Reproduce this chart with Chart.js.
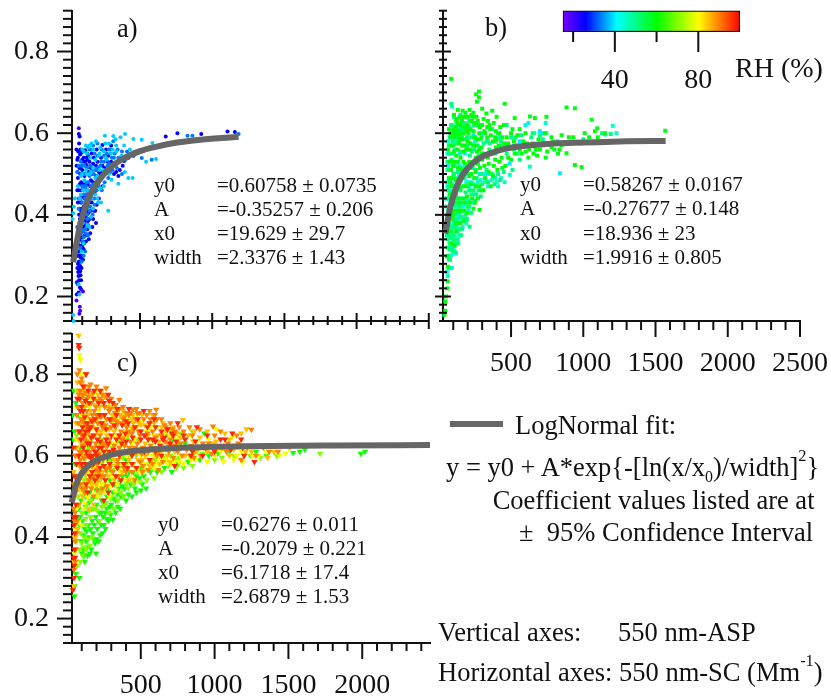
<!DOCTYPE html>
<html><head><meta charset="utf-8">
<script src="https://cdn.jsdelivr.net/npm/chart.js@4"></script>
<style>
html,body{margin:0;padding:0;background:#fff;width:831px;height:700px;overflow:hidden}
canvas{position:absolute}
.t{position:absolute;font-family:"Liberation Serif",serif;color:#111;white-space:pre;transform:translateY(-50%);line-height:1}
.p{font-size:21px}.b{font-size:26.5px}.h{font-size:28px}
sub{font-size:60%;line-height:0}sup{font-size:62%;line-height:0;position:relative;top:-.3em}
</style></head><body>
<div id="stage"></div>
<script>
// ---- axis ticks ----
const yTicks=[.14,.16,.18,.2,.22,.24,.26,.28,.3,.32,.34,.36,.38,.4,.42,.44,.46,.48,.5,.52,.54,.56,.58,.6,.62,.64,.66,.68,.7,.72,.74,.76,.78,.8,.82,.84,.86,.88,.9];
const yMajor=[.2,.4,.6,.8];
const xTicksAB=[100,200,300,400,500,600,700,800,900,1000,1100,1200,1300,1400,1500,1600,1700,1800,1900,2000,2100,2200,2300,2400,2500];
const xTicksC=[100,200,300,400,500,600,700,800,900,1000,1100,1200,1300,1400,1500,1600,1700,1800,1900,2000,2100,2200,2300,2400];
const xMajor=[500,1000,1500,2000,2500];
const rhTicks=[20,40,60,80];
const rhMajor=[40,80];
// ---- colour bar ----
const rhStops=[15,26,41,60,80,100];
const rhColours=[[120,0,255],[0,0,255],[0,255,255],[0,255,0],[255,255,0],[255,0,0]];
// ---- fit curves ----
const aFitX=[37,60,95,150,222,292,384,500,616,755,917,1183];
const aFitY=[.284,.33,.39,.445,.487,.515,.538,.556,.567,.577,.584,.591];
const bFitX=[45,60,80,110,150,200,270,350,450,600,800,1000,1300,1570];
const bFitY=[.354,.385,.419,.456,.489,.514,.536,.55,.561,.569,.575,.577,.58,.581];
const cFitX=[32,50,70,100,150,200,300,400,600,800,1200,1800,2459];
const cFitY=[.485,.514,.536,.557,.577,.589,.602,.609,.616,.62,.623,.625,.626];
// ---- panel a: RH classes, flat x,y lists ----
const aViolet=[83,.175,85,.165,80,.158,60,.19,76,.612,130,.522,105,.212,92,.218,200,.492,62,.235];
const aBlue=[76,.598,82,.592,60,.56,72,.555,85,.548,70,.54,95,.552,120,.558,110,.54,140,.545,165,.55,200,.56,240,.571,60,.52,80,.515,100,.51,125,.52,145,.505,70,.49,92,.48,115,.495,135,.475,160,.485,185,.47,210,.478,75,.46,98,.445,120,.46,150,.45,175,.455,90,.43,110,.42,130,.435,165,.43,190,.41,200,.425,215,.44,105,.4,125,.395,145,.405,175,.39,195,.38,170,.37,88,.375,100,.36,115,.35,135,.365,155,.355,125,.335,145,.34,80,.34,95,.325,110,.315,75,.3,90,.295,105,.29,70,.28,85,.275,95,.27,72,.26,88,.252,78,.24,92,.24,70,.23,84,.222,75,.21,62,.205,240,.52,270,.51,300,.53,330,.525,360,.51,390,.532,420,.54,455,.545,280,.545,250,.5,320,.5,350,.495,380,.52,240,.47,225,.5,678,.592,759,.6,924,.598,1106,.604,1157,.603,265,.56,300,.57,68,.33,80,.31,100,.3,82,.265,76,.285,98,.345,118,.375,140,.385,78,.4,92,.41,112,.445,132,.46,85,.5,105,.53,130,.54,150,.53,175,.525,205,.53,230,.54];
const aBlue2=[66,.27,74,.25,82,.285,70,.31,88,.31,78,.325,100,.335,85,.355,108,.37,92,.385,74,.35,120,.385,128,.41,100,.415,82,.415,115,.44,95,.46,135,.45,155,.47,175,.48,195,.495,110,.475,82,.475,68,.505,90,.515,120,.53,135,.535,160,.515,180,.54,195,.52,215,.505,235,.505,255,.515,275,.53,290,.515,310,.52,335,.505,88,.56,100,.535,78,.575,66,.535];
const aBlue3=[70,.3,78,.272,86,.262,95,.3,102,.32,112,.33,128,.35,138,.375,150,.39,158,.41,180,.41,72,.37,84,.39,95,.405,108,.385,122,.41,138,.445,150,.43,172,.44,185,.455,95,.43,108,.46,70,.43,78,.44,66,.46];
const aAzure=[86,.44,100,.47,115,.47,125,.45,140,.42,155,.44,170,.46,185,.44,200,.46,215,.47,235,.46,255,.48,280,.49,310,.51,340,.515,375,.5,400,.535,430,.545,95,.52,110,.5,135,.515,155,.52,180,.5,200,.51,225,.52,250,.53,275,.52,295,.505,320,.54,345,.56,375,.555,410,.555,150,.56,175,.57,205,.575,235,.56,75,.52,90,.53,65,.505,100,.39,115,.405,135,.39,150,.41,120,.365,140,.35,105,.335,90,.355,80,.38,65,.37,120,.31,110,.3,95,.285,512,.539,581,.535,863,.594,829,.594,1183,.598,315,.58,285,.56,120,.5,145,.48,170,.5,135,.4,70,.35,85,.32,75,.415,160,.47];
const aAzure2=[110,.45,125,.47,145,.455,165,.455,180,.475,195,.46,205,.485,220,.49,240,.495,265,.505,285,.525,305,.54,325,.55,350,.54,130,.48,150,.495,170,.51,190,.51,210,.515,230,.53,250,.545,270,.55,295,.56,115,.52,135,.55,160,.56,185,.55,205,.545,100,.43,118,.41,135,.42,155,.42,172,.4,185,.425,105,.36,125,.355,110,.345,90,.39,120,.44,95,.5];
const aCyan=[42,.42,37,.404,33,.39,49,.44,83,.44,257,.594,315,.593,396,.598,454,.586,512,.584,586,.576,611,.537,542,.53,449,.49,419,.49,350,.476,303,.486,280,.41,125,.57,150,.57,175,.56,220,.55,250,.555,285,.575,330,.585,365,.59,390,.57,430,.56,470,.55,520,.555,130,.55,155,.54,190,.535,215,.545,260,.54,295,.55,335,.555,360,.53,395,.505,100,.5,125,.51,150,.5,175,.515,205,.495,225,.465,250,.47,285,.5,115,.485,140,.46,165,.44,190,.45,205,.44,120,.43,145,.44,105,.38,135,.375,150,.37,95,.31,110,.33,37,.155,40,.14,75,.23,80,.205,100,.56,90,.495,70,.47,210,.43,230,.43,175,.415,160,.395];
const aCyan2=[130,.5,160,.505,190,.49,220,.51,245,.51,270,.535,310,.56,345,.53,370,.545,120,.46,140,.435,105,.46,90,.45,110,.555,140,.565,165,.575,195,.58,225,.565,260,.575,300,.55,335,.57];
// ---- panel b ----
const bGreen=[86,.733,278,.702,278,.688,264,.677,258,.695,132,.657,213,.657,190,.64,240,.65,300,.66,329,.648,370,.655,456,.672,400,.64,525,.637,630,.641,665,.637,884,.663,942,.661,1058,.633,1097,.612,1567,.606,745,.64,600,.6,560,.61,500,.6,450,.62,420,.6,380,.625,340,.63,300,.62,260,.64,230,.63,200,.62,170,.64,150,.62,120,.63,100,.61,80,.59,110,.59,140,.595,170,.6,205,.6,240,.605,280,.6,320,.6,360,.595,400,.585,440,.59,480,.575,520,.58,560,.56,600,.555,650,.575,700,.56,750,.555,800,.56,850,.57,884,.551,942,.522,988,.517,900,.59,850,.595,780,.59,1010,.6,1150,.6,1100,.59,100,.57,130,.56,160,.57,190,.56,220,.575,250,.57,280,.56,75,.53,95,.52,125,.53,150,.54,180,.525,210,.53,240,.53,270,.525,300,.535,340,.54,380,.52,420,.53,460,.52,500,.535,70,.49,90,.47,115,.485,140,.48,175,.47,210,.495,245,.49,280,.47,320,.49,360,.47,85,.44,110,.43,135,.44,165,.44,195,.445,230,.44,270,.44,310,.46,100,.4,125,.41,160,.41,195,.405,240,.415,282,.412,62,.237,62,.273,39,.155,45,.188,56,.298,72,.36,92,.39,120,.36,150,.38,110,.325,90,.33,60,.22,50,.2,45,.165];
const bGreen2=[105,.645,125,.635,145,.64,165,.655,185,.65,205,.64,225,.645,250,.625,270,.63,285,.615,310,.635,335,.615,355,.61,395,.605,70,.61,90,.6,115,.615,135,.605,155,.6,180,.615,195,.605,220,.61,245,.59,265,.585,295,.59,335,.59,375,.58,415,.57,455,.575,495,.565,540,.57,610,.575,670,.56,725,.575,780,.565,825,.55,65,.56,85,.57,105,.555,120,.545,140,.575,165,.585,175,.555,200,.58,235,.57,265,.555,295,.565,325,.545,355,.555,395,.565,85,.51,105,.53,130,.515,155,.51,170,.53,195,.515,225,.5,255,.505,285,.515,315,.52,345,.505,375,.495,405,.51,440,.515,80,.48,100,.49,125,.47,150,.465,165,.49,190,.47,220,.475,255,.47,295,.46,75,.45,95,.44,120,.45,145,.43,180,.43,215,.43,250,.43,105,.41,140,.41,175,.41,85,.4,115,.38,135,.38,170,.385];
const bGreen3=[510,.61,545,.595,585,.58,625,.56,655,.55,690,.585,735,.6,790,.58,835,.56,880,.575,930,.59,975,.575,1040,.59,1080,.605,130,.625,160,.63,190,.61,235,.64,275,.62,315,.605,350,.62,390,.59,425,.615,470,.59,110,.6,145,.585,180,.57,215,.56,255,.54,300,.55,345,.525,390,.535,435,.54,480,.54,525,.55,575,.55,620,.54,680,.545,740,.54];
const bSpring=[86,.672,120,.61,150,.645,180,.625,210,.615,250,.62,290,.585,330,.58,370,.61,410,.6,460,.57,520,.56,570,.595,640,.59,700,.595,760,.575,820,.58,70,.57,95,.58,125,.575,155,.555,185,.585,215,.545,245,.56,275,.545,310,.55,350,.56,390,.55,430,.56,470,.55,510,.51,560,.535,60,.51,80,.51,105,.5,130,.505,160,.495,190,.505,220,.515,255,.51,290,.5,330,.51,370,.5,410,.5,450,.505,65,.46,80,.45,100,.46,125,.46,150,.46,180,.44,210,.46,240,.46,275,.46,55,.42,75,.42,95,.41,120,.39,145,.42,175,.39,210,.42,250,.435,60,.38,75,.38,90,.36,105,.35,130,.34,155,.35,213,.371,75,.33,95,.31,120,.33,65,.3,75,.315,85,.345,55,.35,85,.62,105,.64,135,.62,165,.61,195,.59,225,.59,255,.59,470,.62,530,.59,430,.58,1000,.585,1190,.598,1130,.6];
const bSpring2=[60,.53,72,.55,88,.535,110,.52,135,.53,150,.515,175,.5,200,.5,235,.515,262,.49,300,.475,340,.48,385,.475,425,.485,70,.47,90,.455,110,.44,135,.425,160,.43,185,.455,200,.42,225,.45,260,.45,290,.445,60,.44,80,.43,100,.425,120,.405,150,.395,185,.4,225,.405,68,.4,85,.37,110,.37,130,.36,160,.365,195,.39,65,.34,80,.35,100,.34,90,.315,110,.31,135,.33,150,.365,70,.27,78,.29,62,.32,100,.59,135,.58,160,.59,195,.57,230,.555,270,.57,310,.575,350,.575,395,.58,440,.57,500,.59,545,.55,590,.575,650,.6,720,.585,120,.6,145,.61,175,.62,210,.63,240,.62];
const bAqua=[92,.665,110,.56,130,.59,70,.55,90,.55,145,.52,170,.515,200,.48,225,.48,255,.47,290,.485,340,.47,400,.48,455,.48,491,.498,630,.518,660,.6,620,.625,745,.6,740,.625,1204,.618,1230,.6,55,.48,70,.44,85,.42,100,.44,115,.42,130,.42,150,.44,170,.42,190,.43,60,.4,80,.4,105,.38,125,.37,140,.39,165,.37,190,.38,55,.37,70,.35,85,.32,100,.32,120,.306,85,.3,70,.29,56,.26,62,.25,130,.44,160,.47,190,.48,220,.46,250,.45,300,.5,345,.5,390,.49,430,.49,110,.47,140,.5,90,.49,50,.44,60,.55,75,.59];
const bAqua2=[60,.47,75,.48,95,.475,120,.43,145,.405,170,.395,205,.41,235,.43,75,.41,95,.395,110,.39,130,.4,150,.35,75,.36,95,.345,115,.34,135,.35,100,.5,125,.49,155,.485,180,.49,210,.47,240,.475,270,.48,320,.48,365,.485,410,.47,65,.58,80,.6,95,.62,115,.58,145,.55,250,.58,300,.6];
const bCyan=[838,.502,700,.605,720,.6,600,.62,560,.58,520,.57,420,.59,340,.58,240,.595,180,.55,120,.41,140,.4,100,.35,85,.33,75,.37,65,.41,55,.4,115,.306,90,.27,175,.43,205,.435,282,.5,320,.5,490,.525,1150,.597,72,.46,65,.52];
// ---- panel c ----
const cGreen=[50,.255,52,.28,84,.3,60,.31,120,.34,140,.355,197,.36,165,.37,190,.385,215,.39,240,.41,260,.42,310,.443,280,.44,330,.46,360,.47,230,.43,205,.42,175,.41,150,.40,130,.39,110,.37,95,.39,120,.42,145,.43,170,.44,195,.45,220,.46,245,.45,270,.47,300,.48,330,.49,365,.5,400,.49,440,.5,470,.51,500,.515,536,.52,430,.53,390,.52,350,.52,310,.51,270,.5,235,.49,200,.48,165,.47,130,.46,105,.44,85,.43,80,.47,95,.49,125,.5,155,.51,185,.52,215,.52,255,.53,290,.54,335,.55,375,.55,420,.56,470,.55,520,.55,565,.56,610,.56,660,.57,710,.56,755,.58,820,.585,900,.59,960,.6,1020,.605,1100,.61,1200,.6,1280,.61,1350,.6,1532,.607,1577,.61,1612,.615,2019,.61,1990,.605,50,.66,40,.7,45,.76,60,.73,75,.7,42,.64,38,.62,55,.58,90,.62,140,.6,205,.57,300,.59,400,.59,500,.605,620,.61,720,.64,800,.63,930,.655,1220,.62];
const cGreen2=[100,.36,115,.355,135,.375,155,.36,180,.395,200,.395,225,.405,250,.43,270,.445,295,.455,320,.47,345,.475,380,.5,415,.505,460,.52,510,.53,110,.405,135,.415,160,.42,185,.43,210,.44,235,.46,260,.46,290,.475,315,.495,340,.505,375,.525,405,.535,445,.54,490,.545,105,.46,125,.475,150,.485,175,.495,205,.5,240,.515,280,.52,320,.53,360,.535,405,.55,450,.56,500,.57,115,.52,145,.535,175,.545,210,.54,250,.55,300,.56,350,.57,400,.58,90,.45,75,.45,70,.52];
const cLime=[70,.33,90,.34,105,.355,130,.37,155,.38,115,.4,90,.41,75,.42,65,.39,100,.46,130,.43,160,.45,190,.47,220,.44,250,.48,285,.46,315,.47,345,.49,385,.5,415,.52,455,.53,495,.535,540,.54,590,.545,640,.56,690,.575,740,.57,790,.57,850,.575,300,.5,260,.515,225,.505,195,.5,160,.49,130,.48,110,.51,140,.53,170,.54,200,.55,230,.555,270,.56,310,.565,355,.57,400,.575,450,.58,500,.585,550,.58,600,.59,650,.595,700,.6,760,.595,830,.6,880,.61,1000,.59,1050,.595,1130,.6,1240,.6,1310,.595,1420,.6,1714,.605,75,.5,85,.55,100,.57,120,.59,150,.62,180,.6,220,.63,260,.6,330,.61,380,.63,440,.62,560,.615,640,.625,750,.63,850,.66,1000,.62,70,.6,65,.65,80,.68,100,.7,130,.73,60,.55,55,.47,125,.55,235,.58,280,.585,45,.5,60,.43];
const cLime2=[85,.37,100,.385,120,.375,145,.395,170,.4,100,.43,125,.445,150,.465,175,.47,205,.465,235,.475,265,.485,295,.495,330,.51,365,.51,400,.53,440,.535,480,.56,525,.565,575,.57,625,.58,680,.585,730,.59,785,.6,850,.6,920,.605,115,.54,135,.57,160,.55,190,.57,220,.57,255,.575,295,.575,330,.59,375,.595,420,.6,470,.6,530,.605,590,.61,670,.615,110,.6,135,.62,165,.64,200,.61,240,.64,275,.63,310,.62,345,.635,410,.64,480,.64,590,.635,680,.65,770,.655];
const cYellow=[91,.835,84,.847,100,.8,60,.72,70,.76,115,.75,150,.72,190,.74,240,.73,300,.7,350,.69,410,.69,470,.695,540,.66,610,.67,700,.65,800,.64,900,.62,1010,.665,1120,.645,1040,.61,1130,.59,1190,.585,1260,.6,1350,.61,1440,.6,1500,.62,60,.64,85,.6,110,.66,140,.67,170,.65,210,.6,250,.66,290,.63,340,.65,400,.6,455,.64,500,.6,530,.58,580,.6,620,.595,680,.58,730,.585,790,.58,870,.59,950,.585,1060,.585,120,.62,160,.58,195,.53,240,.53,290,.525,340,.53,395,.54,440,.545,490,.56,545,.565,590,.57,670,.59,95,.51,115,.47,140,.5,175,.52,210,.5,250,.51,290,.5,330,.515,65,.47,80,.44,55,.42,48,.36,95,.43,110,.58,150,.56,175,.57,205,.59,300,.555,370,.58,430,.6,540,.6,770,.6,820,.62,880,.635,960,.64,70,.62,90,.66,125,.69,170,.7,215,.71,260,.69,310,.68,375,.66,430,.67,490,.65,565,.64,1150,.6,1180,.61,1300,.6,1480,.605];
const cYellow2=[120,.485,135,.5,160,.525,190,.505,220,.525,265,.53,310,.545,360,.56,410,.565,465,.57,520,.575,600,.58,650,.59,710,.58,760,.585,840,.59,910,.6,1000,.6,85,.53,105,.55,125,.53,150,.57,175,.59,200,.6,230,.61,270,.61,320,.63,380,.61,440,.63,510,.62,590,.65,650,.64,760,.645,95,.7,110,.73,135,.76,160,.74,200,.76,250,.75,285,.73,330,.71,375,.7,420,.69,510,.685,570,.67,660,.66,740,.64,840,.65,95,.63,120,.67,150,.69,190,.67,230,.68,275,.67,325,.645,365,.625];
const cGold=[79,.895,105,.78,130,.76,175,.75,210,.75,265,.745,320,.72,380,.71,445,.7,510,.7,580,.7,650,.68,720,.67,785,.688,860,.66,950,.66,1070,.655,1180,.655,1215,.665,60,.68,80,.72,100,.75,120,.72,145,.7,175,.68,205,.69,240,.7,275,.72,310,.7,345,.71,395,.68,450,.68,500,.675,555,.68,615,.65,675,.66,745,.655,820,.65,900,.645,990,.63,1060,.625,1130,.615,1210,.61,1300,.625,1400,.61,1510,.62,1440,.625,60,.6,80,.64,100,.63,125,.65,150,.65,190,.65,230,.66,270,.65,320,.66,365,.64,410,.65,470,.67,530,.63,590,.62,660,.62,730,.61,800,.6,870,.61,950,.61,105,.6,135,.58,180,.59,220,.6,265,.62,320,.59,360,.6,420,.59,480,.59,530,.6,600,.6,680,.6,130,.56,160,.54,190,.56,225,.54,270,.57,320,.54,375,.56,420,.54,480,.57,560,.575,630,.58,700,.585,45,.56,55,.5,60,.45,50,.4,45,.34,44,.28,80,.52,110,.53,150,.47,180,.48,230,.51,100,.76,150,.75,235,.76,70,.78];
const cGold2=[75,.76,95,.74,115,.7,135,.725,160,.71,190,.725,220,.72,255,.745,290,.72,325,.695,360,.7,400,.675,440,.69,485,.68,525,.675,590,.68,640,.67,705,.665,770,.645,95,.68,120,.63,145,.635,170,.67,205,.66,245,.68,285,.665,350,.65,385,.645,425,.66,490,.635,550,.65,625,.635,700,.625,775,.62,855,.635,925,.62,1010,.635,1100,.64,90,.57,115,.57,140,.54,170,.53,200,.53,240,.56,280,.55,330,.575,390,.575,445,.58,510,.59,575,.59,640,.61,85,.48,105,.5,65,.53,70,.42,60,.4,1100,.6,1250,.61,1360,.595];
const cOrange=[90,.78,120,.77,160,.775,200,.77,265,.766,240,.75,300,.74,355,.737,330,.725,400,.705,446,.713,490,.705,604,.713,640,.69,700,.68,760,.67,830,.67,900,.665,989,.672,1040,.66,1150,.65,1249,.664,65,.7,80,.75,105,.73,135,.74,165,.73,195,.72,225,.74,255,.72,285,.71,315,.69,345,.68,380,.69,420,.7,465,.69,520,.69,565,.69,610,.69,670,.67,735,.66,790,.66,850,.65,920,.63,1000,.65,1090,.63,1160,.63,1250,.625,1330,.62,1370,.61,60,.62,75,.66,95,.69,115,.68,135,.71,160,.69,185,.71,210,.68,240,.67,270,.69,300,.67,330,.67,365,.66,405,.67,440,.655,485,.66,535,.65,580,.66,640,.65,700,.64,770,.63,840,.625,905,.6,980,.605,1080,.61,1180,.59,1280,.6,100,.65,120,.64,145,.66,170,.62,195,.63,225,.65,255,.63,290,.64,320,.625,355,.62,390,.625,430,.635,475,.63,515,.62,565,.625,620,.61,685,.63,750,.61,810,.615,100,.61,130,.6,165,.6,200,.58,245,.59,290,.6,345,.59,410,.61,470,.61,515,.575,580,.58,650,.585,720,.595,45,.53,55,.6,60,.51,70,.55,85,.58,120,.56,150,.54,180,.55,215,.56,250,.55,290,.57,350,.55,400,.56,460,.54,510,.56,50,.44,55,.39,60,.37,48,.32,52,.43,45,.47,75,.48,90,.53,130,.52,180,.5,240,.52,70,.8,85,.81,100,.79,130,.8,150,.77,1430,.61,380,.72,470,.715,560,.71];
const cOrange2=[72,.72,88,.76,110,.75,125,.755,145,.745,175,.755,205,.735,235,.735,270,.745,295,.715,325,.705,355,.715,390,.695,430,.705,475,.705,540,.7,595,.7,660,.675,715,.665,75,.68,95,.66,110,.69,130,.67,150,.68,175,.7,200,.7,230,.695,260,.675,295,.685,335,.685,370,.68,410,.66,450,.665,495,.65,545,.655,600,.645,665,.635,730,.625,800,.62,875,.62,960,.63,1050,.62,85,.61,105,.625,130,.635,155,.61,185,.62,215,.605,240,.63,275,.625,305,.61,340,.61,375,.64,420,.62,460,.62,505,.605,550,.61,610,.6,690,.61,780,.6,860,.595,90,.59,115,.595,140,.58,170,.575,200,.565,230,.55,265,.565,310,.56,345,.58,385,.57,440,.56,495,.585,550,.565,620,.565,100,.52,120,.51,165,.52,205,.515,270,.525,70,.44,58,.34,65,.41,55,.46];
const cRed=[79,.872,82,.865,129,.8,110,.77,145,.76,185,.76,225,.76,280,.75,310,.73,420,.715,520,.71,590,.69,680,.665,750,.68,880,.67,950,.65,1120,.655,1180,.64,1190,.62,70,.74,90,.71,110,.71,135,.68,160,.67,190,.69,220,.7,255,.7,290,.69,335,.7,375,.675,415,.68,460,.67,500,.66,545,.67,600,.67,660,.645,720,.65,800,.64,870,.635,940,.62,1040,.64,1110,.615,1200,.6,1270,.585,85,.66,105,.67,125,.66,155,.63,180,.65,205,.64,235,.62,265,.64,300,.65,335,.64,375,.61,440,.6,500,.64,550,.64,600,.635,650,.64,740,.635,80,.6,110,.62,140,.63,175,.6,190,.61,215,.62,250,.61,285,.61,320,.605,370,.63,130,.61,160,.595,200,.6,250,.575,290,.58,340,.57,410,.57,470,.57,560,.59,640,.6,730,.575,100,.58,125,.58,155,.55,190,.54,225,.57,260,.54,310,.53,365,.54,45,.45,48,.43,52,.41,50,.37,44,.35,48,.3,40,.27,42,.62,50,.55,65,.58,60,.48,75,.54,95,.55,140,.51,250,.49,1000,.61,840,.6,920,.6];
const cRed2=[85,.74,100,.72,125,.735,150,.73,180,.74,215,.73,250,.73,285,.735,340,.715,400,.685,480,.69,560,.68,640,.66,710,.655,790,.65,120,.695,150,.665,170,.685,200,.665,235,.68,265,.665,320,.675,355,.65,395,.655,445,.645,525,.65,580,.64,630,.625,700,.63,770,.62,850,.61,1070,.64,95,.64,115,.65,165,.645,195,.61,225,.635,280,.63,315,.615,355,.6,400,.635,455,.61,525,.61,600,.61,110,.57,145,.6,180,.58,215,.585,275,.595,330,.55,385,.58,440,.58,130,.53,170,.56,210,.55,280,.51,55,.35,50,.33,62,.45];
const fitColour='#666666';
// ---- helpers ----
function pairs(f){const o=[];for(let i=0;i<f.length;i+=2)o.push({x:f[i],y:f[i+1]});return o}
function zip(a,b){return a.map((x,i)=>({x,y:b[i]}))}
function rhColour(rh){
  let i=0;while(i<rhStops.length-2&&rh>rhStops[i+1])i++;
  const t=Math.min(1,Math.max(0,(rh-rhStops[i])/(rhStops[i+1]-rhStops[i])));
  const c=rhColours[i].map((v,k)=>Math.round(v+(rhColours[i+1][k]-v)*t));
  return `rgb(${c[0]},${c[1]},${c[2]})`;
}
function near(v,list){return list.some(m=>Math.abs(m-v)<1e-6)}
const tickMarks={id:'tickMarks',afterDraw(chart,args,opts){
  const ctx=chart.ctx;ctx.save();ctx.strokeStyle='#111';ctx.lineWidth=2;
  [['x',opts.x],['y',opts.y]].forEach(([id,o])=>{
    const s=chart.scales[id];if(!o)return;
    s.ticks.forEach(t=>{
      const big=near(t.value,o.major);
      const a=big?o.bigOut:o.smallOut,b=big?o.bigIn:o.smallIn;
      const p=s.getPixelForValue(t.value);
      ctx.beginPath();
      if(id==='x'){ctx.moveTo(p,s.top-b);ctx.lineTo(p,s.top+a)}
      else{ctx.moveTo(s.right-a,p);ctx.lineTo(s.right+b,p)}
      ctx.stroke();
    });
  });
  ctx.restore();
}};
Chart.register(tickMarks);
const FONT={family:'"Liberation Serif", serif',size:28};
const AXW=65,AXH=60,OFFTOP=60,CW=1000,CH=800;
function addCanvas(){const c=document.createElement('canvas');c.width=CW;c.height=CH;c.style.width=CW+'px';c.style.height=CH+'px';c.style.left='0px';c.style.top=-OFFTOP+'px';document.getElementById('stage').appendChild(c);return c}
function panel(p){
  const ds=[{type:'line',data:zip(p.fitX,p.fitY),borderColor:fitColour,borderWidth:6,pointRadius:0,cubicInterpolationMode:'monotone',fill:false,clip:false,order:0}];
  p.series.forEach((s,i)=>ds.push({type:'scatter',data:pairs(s.data),pointStyle:p.style,rotation:p.rotation,radius:p.radius,pointRadius:p.radius,pointBorderWidth:0,borderWidth:0,pointBackgroundColor:rhColour(s.rh),backgroundColor:rhColour(s.rh),clip:false,order:i+1}));
  new Chart(addCanvas(),{data:{datasets:ds},options:{
    responsive:false,animation:false,devicePixelRatio:1,
    layout:{padding:{left:p.left-AXW,top:p.top+OFFTOP,right:CW-p.right,bottom:CH-(p.bottom+OFFTOP)-AXH},autoPadding:false},
    plugins:{legend:{display:false},tooltip:{enabled:false},tickMarks:p.marks},
    scales:{
      x:{type:'linear',min:p.xMin,max:p.xMax,grid:{display:false},border:{display:true,color:'#111',width:2},
        afterBuildTicks(a){a.ticks=p.xTicks.map(v=>({value:v}))},afterFit(a){a.height=AXH},
        ticks:{autoSkip:false,maxRotation:0,minRotation:0,padding:18,color:'#111',font:FONT,callback:v=>(p.xLabels&&near(v,xMajor))?String(v):''}},
      y:{type:'linear',min:.14,max:.9,grid:{display:false},border:{display:true,color:'#111',width:2},
        afterBuildTicks(a){a.ticks=yTicks.map(v=>({value:v}))},afterFit(a){a.width=AXW},
        ticks:{autoSkip:false,padding:15,color:'#111',font:FONT,callback:v=>(p.yLabels&&near(v,yMajor))?v.toFixed(1):''}}
    }}});
}
panel({left:72,top:10.7,right:428.8,bottom:321,xMin:29,xMax:2500,xTicks:xTicksAB,xLabels:false,yLabels:true,
  style:'circle',rotation:0,radius:2,fitX:aFitX,fitY:aFitY,
  series:[{rh:38,data:aCyan.concat(aCyan2)},{rh:33,data:aAzure.concat(aAzure2)},{rh:26,data:aBlue.concat(aBlue2,aBlue3)},{rh:20,data:aViolet}],
  marks:{x:{major:xMajor,bigOut:8,bigIn:8,smallOut:4,smallIn:5},y:{major:yMajor,bigOut:15,bigIn:0,smallOut:9,smallIn:0}}});
panel({left:443,top:10.7,right:800,bottom:321,xMin:29,xMax:2500,xTicks:xTicksAB,xLabels:true,yLabels:false,
  style:'rect',rotation:0,radius:2.8,fitX:bFitX,fitY:bFitY,
  series:[{rh:59,data:bGreen.concat(bGreen2,bGreen3)},{rh:51,data:bSpring.concat(bSpring2)},{rh:45,data:bAqua.concat(bAqua2)},{rh:40,data:bCyan}],
  marks:{x:{major:xMajor,bigOut:16,bigIn:0,smallOut:9,smallIn:0},y:{major:yMajor,bigOut:8,bigIn:8,smallOut:4,smallIn:4}}});
panel({left:72,top:333.5,right:430,bottom:643,xMin:34,xMax:2459,xTicks:xTicksC,xLabels:true,yLabels:true,
  style:'triangle',rotation:180,radius:3.7,fitX:cFitX,fitY:cFitY,
  series:[{rh:97,data:cRed.concat(cRed2)},{rh:90,data:cOrange.concat(cOrange2)},{rh:85,data:cGold.concat(cGold2)},{rh:79,data:cYellow.concat(cYellow2)},{rh:70,data:cLime.concat(cLime2)},{rh:61,data:cGreen.concat(cGreen2)}],
  marks:{x:{major:xMajor,bigOut:16,bigIn:0,smallOut:8,smallIn:0},y:{major:yMajor,bigOut:15,bigIn:0,smallOut:9,smallIn:0}}});
// colour bar: one floating bar on a RH scale
new Chart(addCanvas(),{type:'bar',data:{labels:['RH'],datasets:[{data:[[15,100]],barPercentage:1,categoryPercentage:1,borderColor:'#111',borderWidth:1.5,borderSkipped:false,
  backgroundColor(c){const ch=c.chart;if(!ch.chartArea)return '#fff';const x=ch.scales.x;const g=ch.ctx.createLinearGradient(x.left,0,x.right,0);
    rhStops.forEach((r,i)=>g.addColorStop((r-15)/85,`rgb(${rhColours[i].join(',')})`));return g}}]},
  options:{indexAxis:'y',responsive:false,animation:false,devicePixelRatio:1,
    layout:{padding:{left:562.7,top:10.5+OFFTOP,right:CW-740,bottom:CH-(32+OFFTOP)-AXH-10},autoPadding:false},
    plugins:{legend:{display:false},tooltip:{enabled:false},tickMarks:{x:{major:rhMajor,bigOut:20,bigIn:0,smallOut:10,smallIn:0}}},
    scales:{
      x:{type:'linear',min:15,max:100,grid:{display:false},border:{display:false},
        afterBuildTicks(a){a.ticks=rhTicks.map(v=>({value:v}))},afterFit(a){a.height=AXH+10},
        ticks:{autoSkip:false,maxRotation:0,minRotation:0,padding:24,color:'#111',font:FONT,callback:v=>near(v,rhMajor)?String(v):''}},
      y:{grid:{display:false},border:{display:false},ticks:{display:false},afterFit(a){a.width=0}}
    }}});
// ---- text ----
const notes=[
 ['b',117,28,'a)'],['b',485,27,'b)'],['b',117,362,'c)'],
 ['h',735,68,'RH (%)'],
 ['p',154,185,'y0'],['p',154,209,'A'],['p',154,233,'x0'],['p',154,257,'width'],
 ['p',217,185,'=0.60758 ± 0.0735'],['p',217,209,'=-0.35257 ± 0.206'],['p',217,233,'=19.629 ± 29.7'],['p',217,257,'=2.3376 ± 1.43'],
 ['p',520,184,'y0'],['p',520,208,'A'],['p',520,233,'x0'],['p',520,257,'width'],
 ['p',583,184,'=0.58267 ± 0.0167'],['p',583,208,'=-0.27677 ± 0.148'],['p',583,233,'=18.936 ± 23'],['p',583,257,'=1.9916 ± 0.805'],
 ['p',158,524,'y0'],['p',158,548,'A'],['p',158,572,'x0'],['p',158,596,'width'],
 ['p',221,524,'=0.6276 ± 0.011'],['p',221,548,'=-0.2079 ± 0.221'],['p',221,572,'=6.1718 ± 17.4'],['p',221,596,'=2.6879 ± 1.53'],
 ['b',515,425,'LogNormal fit:'],
 ['b',446,467,'y = y0 + A*exp{-[ln(x/x<sub>0</sub>)/width]<sup>2</sup>}'],
 ['b',492.7,500,'Coefficient values listed are at'],
 ['b',519,532,'±  95% Confidence Interval'],
 ['b',438,632,'Vertical axes:'],['b',618,632,'550 nm-ASP'],
 ['b',438,672,'Horizontal axes: 550 nm-SC (Mm<sup>-1</sup>)']
];
notes.forEach(([k,x,y,s])=>{const d=document.createElement('div');d.className='t '+k;d.style.left=x+'px';d.style.top=y+'px';d.innerHTML=s;document.body.appendChild(d)});
const sw=document.createElement('div');sw.style.cssText='position:absolute;left:450px;top:421px;width:53px;height:6px;background:'+fitColour;document.body.appendChild(sw);
</script>
</body></html>
